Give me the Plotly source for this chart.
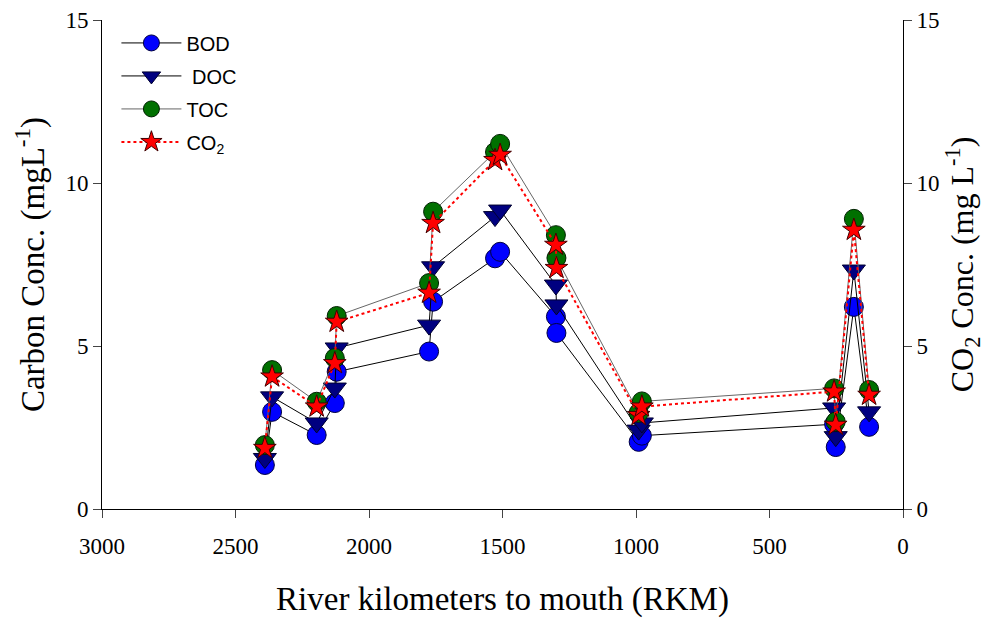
import plotly.graph_objects as go

# River kilometers (station order along the series path)
rkm = [2390, 2363, 2196, 2128, 2121, 1775, 1760, 1528, 1509, 1300, 1298, 990, 978, 258, 252, 184, 127]

bod = [1.35, 2.98, 2.27, 3.25, 4.21, 4.83, 6.36, 7.69, 7.89, 5.9, 5.4, 2.06, 2.25, 2.6, 1.9, 6.2, 2.52]
doc = [1.55, 3.44, 2.64, 3.71, 4.94, 5.64, 7.43, 8.97, 9.17, 6.87, 6.26, 2.42, 2.64, 3.1, 2.22, 7.33, 2.98]
toc = [1.96, 4.26, 3.29, 4.63, 5.92, 6.93, 9.12, 10.95, 11.2, 8.4, 7.7, 2.95, 3.3, 3.7, 2.68, 8.9, 3.65]
co2 = [1.87, 4.06, 3.14, 4.47, 5.74, 6.63, 8.77, 10.7, 10.86, 8.1, 7.39, 2.88, 3.14, 3.6, 2.58, 8.56, 3.5]

x_ticks = [3000, 2500, 2000, 1500, 1000, 500, 0]
y_ticks = [0, 5, 10, 15]

serif = "Liberation Serif"
sans = "Liberation Sans"

fig = go.Figure()
fig.add_trace(go.Scatter(
    x=rkm, y=bod, name="BOD", mode="lines+markers", legendgroup="a",
    line=dict(color="black", width=1),
    marker=dict(symbol="circle", size=19, color="#0000ff", line=dict(color="#000040", width=1))))
fig.add_trace(go.Scatter(
    x=rkm, y=doc, name=" DOC", mode="lines+markers", legendgroup="b",
    line=dict(color="black", width=1),
    marker=dict(symbol="triangle-down", size=20, color="#000080", line=dict(color="#000030", width=1))))
fig.add_trace(go.Scatter(
    x=rkm, y=toc, name="TOC", mode="lines+markers", legendgroup="c",
    line=dict(color="#666666", width=1),
    marker=dict(symbol="circle", size=19, color="#007000", line=dict(color="#002000", width=1))))
fig.add_trace(go.Scatter(
    x=rkm, y=co2, name="CO<sub>2</sub>", mode="lines+markers", yaxis="y2", legendgroup="d",
    line=dict(color="#ff0000", width=2, dash="dot"),
    marker=dict(symbol="star", size=17, color="#ff0000", line=dict(color="#400000", width=1))))

fig.update_layout(
    width=996, height=620,
    margin=dict(l=102, r=93, t=20, b=111),
    plot_bgcolor="white", paper_bgcolor="white",
    font=dict(family=serif, size=23, color="black"),
    showlegend=True,
    legend=dict(x=0.018, y=0.993, xanchor="left", yanchor="top",
                font=dict(family=sans, size=20, color="black"),
                bgcolor="rgba(255,255,255,0)", tracegroupgap=4,
                itemwidth=60, itemsizing="trace"),
    xaxis=dict(range=[3000, 0], tickvals=x_ticks, ticks="outside", ticklen=8,
               showline=True, linecolor="black", linewidth=1, mirror=False,
               showgrid=False, zeroline=False, ticklabelstandoff=8, automargin=False,
               tickfont=dict(family=serif, size=23),
               title=dict(text="River kilometers to mouth (RKM)",
                          font=dict(family=serif, size=33), standoff=29)),
    yaxis=dict(range=[0, 15], tickvals=y_ticks, ticks="outside", ticklen=8,
               showline=True, linecolor="black", linewidth=1, automargin=False,
               showgrid=False, zeroline=False,
               tickfont=dict(family=serif, size=23),
               title=dict(text="Carbon Conc. (mgL<sup>-1</sup>)",
                          font=dict(family=serif, size=33), standoff=10)),
    yaxis2=dict(range=[0, 15], tickvals=y_ticks, ticks="outside", ticklen=8,
                overlaying="y", side="right", automargin=False,
                showline=True, linecolor="black", linewidth=1,
                showgrid=False, zeroline=False,
                tickfont=dict(family=serif, size=23),
                title=dict(text="CO<sub>2</sub> Conc. (mg L<sup>-1</sup>)",
                           font=dict(family=serif, size=32), standoff=6)),
)

fig.write_html("out.html")
